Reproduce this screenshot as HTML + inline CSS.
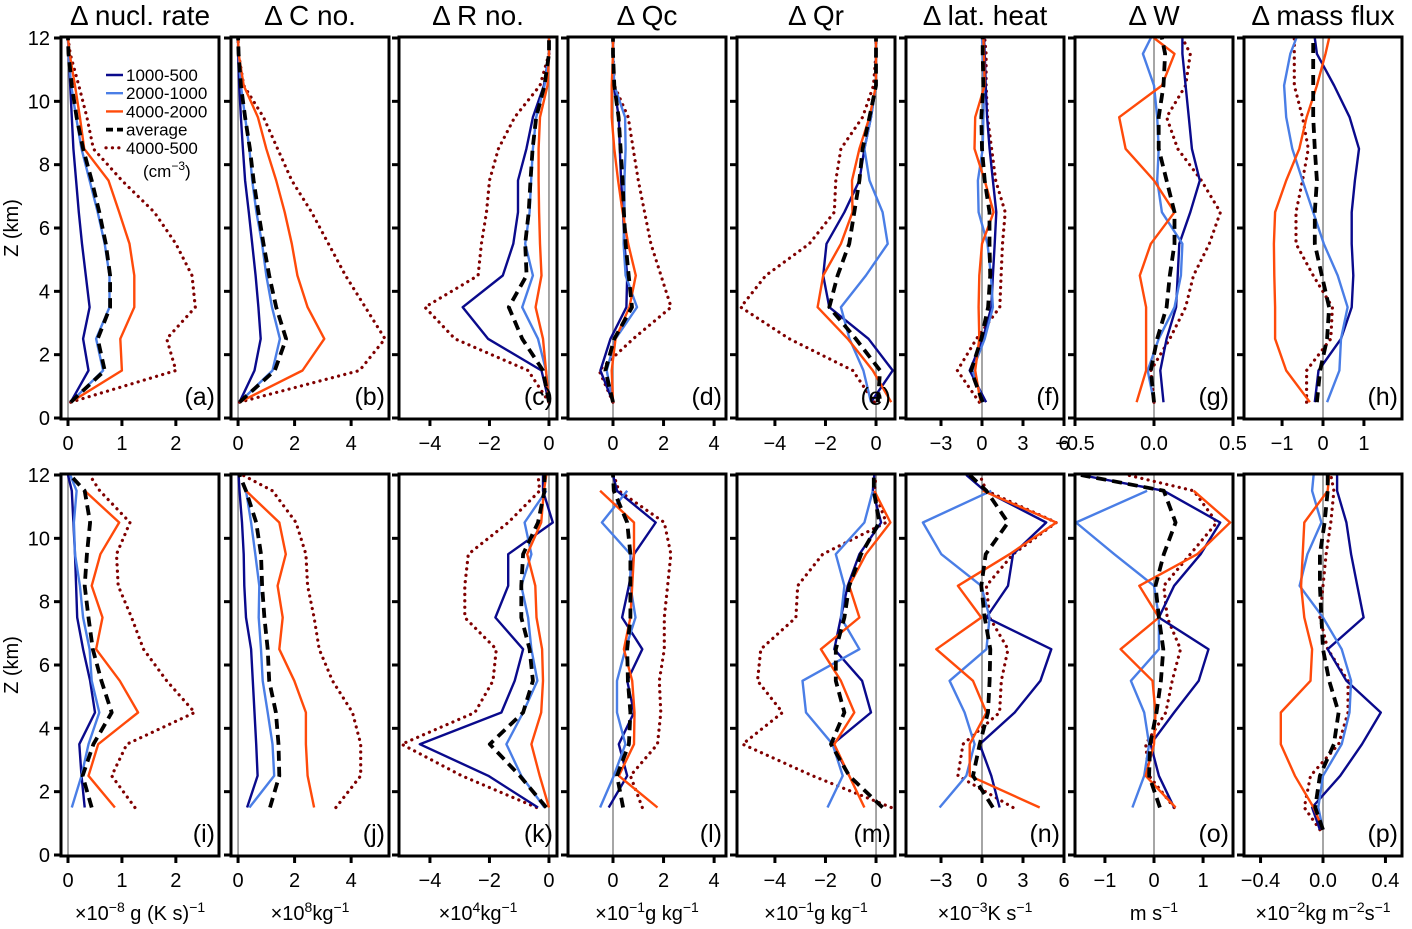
<!DOCTYPE html>
<html><head><meta charset="utf-8">
<style>
html,body{margin:0;padding:0;background:#fff;}
svg{display:block;font-family:"Liberation Sans",sans-serif;}
</style></head>
<body>
<svg id="chart" width="1412" height="929" viewBox="0 0 1412 929" xmlns="http://www.w3.org/2000/svg"></svg>
<script>
// ---------- data ----------
const topLevels = [0.5,1.5,2.5,3.5,4.5,5.5,6.5,7.5,8.5,9.5,10.5,11.5,12];
const botLevels = [0.8,1.5,2.5,3.5,4.5,5.5,6.5,7.5,8.5,9.5,10.5,11.5,12];
const seriesNames = ["1000-500","2000-1000","4000-2000","average","4000-500"];
const panelLetters = ["a","b","c","d","e","f","g","h","i","j","k","l","m","n","o","p"];
const panelTitles = ["\u0394 nucl. rate","\u0394 C no.","\u0394 R no.","\u0394 Qc","\u0394 Qr","\u0394 lat. heat","\u0394 W","\u0394 mass flux"];
const xTicks = [[0,1,2],[0,2,4],[-4,-2,0],[0,2,4],[-4,-2,0],[-3,0,3,6],[-0.5,0,0.5],[-1,0,1],
                [0,1,2],[0,2,4],[-4,-2,0],[0,2,4],[-4,-2,0],[-3,0,3,6],[-1,0,1],[-0.4,0,0.4]];
const xTickLabels = [["0","1","2"],["0","2","4"],["\u22124","\u22122","0"],["0","2","4"],["\u22124","\u22122","0"],["\u22123","0","3","6"],["\u22120.5","0.0","0.5"],["\u22121","0","1"],
                ["0","1","2"],["0","2","4"],["\u22124","\u22122","0"],["0","2","4"],["\u22124","\u22122","0"],["\u22123","0","3","6"],["\u22121","0","1"],["\u22120.4","0.0","0.4"]];
const yTicks = [0,2,4,6,8,10,12];
// series per panel: [blue, lightblue, orange, average, dotted]
const dA = [[0.05,0.38,0.28,0.40,0.33,0.26,0.2,0.15,0.1,0.07,0.04,0.01,0],
            [0.05,0.65,0.52,0.77,0.77,0.68,0.55,0.4,0.25,0.15,0.06,0.01,0],
            [0.05,1.0,0.97,1.23,1.23,1.14,0.95,0.75,0.3,0.22,0.13,0.03,0],
            [0.05,0.68,0.55,0.78,0.78,0.7,0.58,0.44,0.28,0.16,0.07,0.01,0],
            [0.05,2.0,1.83,2.36,2.3,2.0,1.6,1.0,0.47,0.35,0.2,0.04,0]];
const dB = [[0.05,0.58,0.8,0.72,0.62,0.5,0.38,0.25,0.17,0.1,0.04,0.0,0],
            [0.05,1.22,1.48,1.2,1.0,0.85,0.65,0.5,0.4,0.25,0.1,0.02,0],
            [0.05,2.28,3.05,2.46,2.1,1.9,1.65,1.35,1.0,0.7,0.2,0.02,0],
            [0.05,1.3,1.7,1.35,1.1,0.9,0.72,0.55,0.42,0.25,0.1,0.02,0],
            [0.05,4.3,5.2,4.5,3.8,3.2,2.6,1.9,1.4,0.9,0.2,0.02,0]];
const dC = [[0,-0.25,-2.05,-2.9,-1.55,-1.2,-1.04,-1.04,-0.76,-0.54,-0.17,0,0],
            [0,-0.1,-0.37,-0.9,-0.54,-0.8,-0.65,-0.6,-0.54,-0.43,-0.15,0,0],
            [0,-0.1,-0.2,-0.45,-0.25,-0.3,-0.33,-0.35,-0.35,-0.3,-0.05,0,0],
            [0,-0.2,-0.9,-1.35,-0.75,-0.8,-0.68,-0.62,-0.55,-0.43,-0.15,0,0],
            [0,-0.7,-3.16,-4.17,-2.38,-2.27,-2.1,-2.0,-1.7,-1.15,-0.3,0,0]];
const dD = [[0,-0.5,-0.1,0.53,0.56,0.45,0.4,0.32,0.27,0.23,0.03,0,0],
            [0,-0.25,0.1,0.95,0.5,0.42,0.45,0.45,0.5,0.48,0.05,0,0],
            [0,-0.05,0.1,0.65,0.9,0.6,0.38,0.2,0.05,-0.05,-0.05,0,0],
            [0,-0.3,0.05,0.75,0.62,0.5,0.43,0.38,0.3,0.22,0.05,0,0],
            [0,-0.55,0.8,2.3,1.9,1.5,1.25,1.0,0.8,0.6,0.05,0,0]];
const dE = [[-0.2,0.66,-0.3,-1.85,-2.09,-1.96,-1.25,-0.66,-0.46,-0.2,0,0,0],
            [-0.2,-0.5,-1.05,-1.39,-0.4,0.46,0.26,-0.26,-0.46,-0.2,0,0,0],
            [0.6,-0.13,-1.12,-2.31,-2.09,-1.39,-0.93,-0.95,-0.66,-0.26,0,0,0],
            [0.07,0.16,-0.8,-1.85,-1.52,-1.06,-0.86,-0.66,-0.53,-0.26,0,0,0],
            [-0.07,-0.92,-3.43,-5.35,-4.36,-2.64,-1.65,-1.59,-1.39,-0.53,-0.1,0,0]];
const dF = [[0.3,-0.9,0.07,0.68,0.8,0.93,1.05,0.8,0.56,0.37,0.27,0.2,0.15],
            [0.1,-0.7,0.2,0.8,0.65,0.4,-0.25,-0.3,0.05,0.1,0.15,0.05,0.0],
            [-0.1,-0.5,-0.2,-0.25,-0.2,0,0.85,0.2,-0.55,-0.5,0.2,0.15,0.1],
            [0.05,-0.8,-0.05,0.45,0.6,0.55,0.55,0.2,0,-0.05,0.1,0.05,0.05],
            [-0.2,-1.8,-0.4,1.3,1.4,1.5,1.7,1.0,0.7,0.4,0.3,0.3,0.2]];
const dG = [[0.06,0.04,0.08,0.14,0.15,0.16,0.23,0.29,0.24,0.22,0.2,0.18,0.18],
            [0,-0.04,0.03,0.13,0.17,0.18,0.05,0.02,0.03,0.02,0,-0.07,-0.02],
            [-0.11,-0.05,-0.05,-0.05,-0.09,-0.02,0.13,0,-0.18,-0.22,0.05,0.13,0],
            [0,-0.02,0.02,0.08,0.1,0.13,0.13,0.08,0.03,0.03,0.06,0.07,0.05],
            [0,-0.02,0.1,0.2,0.25,0.35,0.42,0.3,0.15,0.08,0.2,0.23,0.18]];
const dH = [[-0.2,-0.11,0.44,0.7,0.74,0.7,0.7,0.78,0.88,0.65,0.27,-0.15,-0.2],
            [0.1,0.4,0.44,0.6,0.36,0.02,-0.24,-0.5,-0.75,-0.9,-0.95,-0.8,-0.65],
            [-0.32,-0.9,-1.17,-1.17,-1.19,-1.2,-1.17,-0.9,-0.58,-0.4,-0.15,0.06,0.15],
            [-0.15,-0.07,0.1,0.15,-0.03,-0.2,-0.2,-0.15,-0.2,-0.24,-0.24,-0.24,-0.24],
            [-0.4,-0.4,0.19,0.23,-0.24,-0.66,-0.66,-0.5,-0.36,-0.5,-0.7,-0.7,-0.7]];
const dI = [[null,0.31,0.25,0.21,0.5,0.41,0.28,0.17,0.15,0.13,0.1,0.07,0],
            [null,0.07,0.25,0.38,0.58,0.44,0.4,0.28,0.22,0.13,0.11,0.16,0.04],
            [null,0.87,0.38,0.56,1.3,0.96,0.52,0.64,0.44,0.6,0.95,0.31,null],
            [null,0.44,0.27,0.47,0.81,0.62,0.46,0.38,0.31,0.35,0.41,0.31,0.04],
            [null,1.24,0.81,1.09,2.35,1.83,1.4,1.18,0.93,0.9,1.15,0.59,0.4]];
const dJ = [[null,0.32,0.69,0.64,0.58,0.52,0.46,0.28,0.22,0.2,0.14,0.05,0.02],
            [null,0.4,1.28,1.22,1.05,0.87,0.81,0.73,0.75,0.61,0.46,0.28,null],
            [null,2.69,2.46,2.4,2.4,1.99,1.46,1.58,1.4,1.69,1.46,0.28,null],
            [null,1.13,1.46,1.43,1.34,1.1,1.05,0.93,0.85,0.81,0.64,0.28,0.05],
            [null,3.46,4.34,4.34,4.05,3.34,2.87,2.69,2.46,2.4,2.05,1.22,0.16]];
const dK = [[null,-0.37,-2.04,-4.34,-1.6,-1.15,-0.87,-1.8,-1.37,-1.37,0.13,-0.2,-0.2],
            [null,-0.15,-0.93,-1.43,-0.87,-0.39,-0.59,-0.7,-0.93,-0.59,-0.82,-0.09,null],
            [null,0,-0.31,-0.59,-0.26,-0.2,-0.23,-0.42,-0.46,-0.73,-0.26,-0.17,-0.09],
            [null,-0.09,-0.98,-1.99,-0.87,-0.54,-0.65,-0.93,-0.93,-0.87,-0.37,-0.15,-0.15],
            [null,-0.42,-2.93,-4.95,-2.49,-1.88,-1.77,-2.83,-2.83,-2.71,-1.37,-0.31,-0.37]];
const dL = [[null,-0.17,0.56,0.23,0.83,0.56,1.16,0.36,0.63,0.83,1.69,0.16,0],
            [null,-0.51,0.03,0.49,0.16,0.16,0.49,0.89,0.69,0.69,-0.44,0.56,null],
            [null,1.76,0.23,0.83,0.85,0.76,0.43,0.69,0.76,0.83,0.83,-0.51,null],
            [null,0.4,0.16,0.63,0.69,0.59,0.56,0.69,0.69,0.69,0.56,0.03,0],
            [null,1.16,0.69,1.76,1.89,1.83,2.03,2.03,2.16,2.29,2.03,0.23,0.03]];
const dM = [[null,null,-1.06,-1.72,-0.2,-0.55,-1.65,-1.39,-1.12,-0.66,0.2,-0.13,-0.07],
            [null,-1.92,-1.32,-1.72,-2.77,-2.91,-0.66,-1.39,-1.25,-1.59,-0.46,-0.13,null],
            [null,-0.46,-1.06,-1.65,-0.86,-1.39,-2.18,-0.66,-1.06,-0.4,0.57,-0.07,null],
            [null,0.26,-1.06,-1.78,-1.25,-1.59,-1.59,-1.25,-1.06,-0.59,0.13,-0.09,-0.09],
            [null,0.6,-2.51,-5.28,-3.7,-4.69,-4.56,-3.17,-3.1,-2.11,0.4,-0.07,0]];
const dN = [[null,1.29,0.68,-0.17,2.39,4.27,5.07,0.32,1.9,2.27,4.7,0.2,-1.15],
            [null,-3.1,-1.15,-0.54,-1.27,-2.37,0.32,0.56,-0.05,-2.98,-4.32,0.68,null],
            [null,4.22,-0.9,-0.9,0.32,-0.66,-3.34,-0.05,-1.76,2.02,5.44,0.07,null],
            [null,0.8,-0.66,-0.17,0.44,0.56,0.61,0.2,-0.05,0.27,1.9,0.32,-0.9],
            [null,2.27,-1.76,-1.39,1.29,1.41,1.9,0.56,0.32,2.27,5.44,0.32,-0.17]];
const dO = [[null,0.41,0.1,-0.07,0.41,0.91,1.11,0.1,0.41,0.95,1.35,0.2,-1.49],
            [null,-0.44,-0.2,-0.1,-0.2,-0.47,0.1,0.1,0,-0.81,-1.59,-0.14,null],
            [null,0.44,-0.17,0,0.03,-0.03,-0.68,0.1,-0.3,0.88,1.55,0.81,null],
            [null,0.12,-0.1,-0.08,0.05,0.14,0.19,0.1,0.03,0.2,0.44,0.2,-1.49],
            [null,0.41,-0.1,-0.17,0.24,0.37,0.54,0.27,0.2,0.74,1.28,0.81,-0.54]];
const dP = [[-0.02,-0.07,0.11,0.25,0.37,0.15,0.03,0.26,0.22,0.18,0.15,0.09,0.09],
            [0,-0.03,0.0,0.12,0.17,0.18,0.12,0.0,-0.15,-0.1,-0.01,-0.07,-0.06],
            [0,-0.06,-0.18,-0.27,-0.27,-0.08,-0.07,-0.12,-0.14,-0.13,-0.12,0.03,0.04],
            [0,-0.05,-0.02,0.07,0.1,0.04,0.0,-0.01,-0.02,-0.02,0.01,0.03,0.03],
            [-0.02,-0.12,-0.08,0.1,0.16,0.16,0.03,-0.02,0.0,0.02,0.05,0.07,0.05]];
const panelData = [dA,dB,dC,dD,dE,dF,dG,dH,dI,dJ,dK,dL,dM,dN,dO,dP];
const xDomains = [[-0.13,2.8],[-0.25,5.34],[-5.04,0.27],[-1.78,4.47],[-5.5,0.75],[-5.56,6.0],[-0.5,0.5],[-1.93,1.93],
                  [-0.13,2.8],[-0.25,5.34],[-5.04,0.27],[-1.78,4.47],[-5.5,0.75],[-5.56,6.0],[-1.61,1.61],[-0.506,0.506]];
// unit labels: [text, superscript] pairs
const unitLabels = [
  [["\u00d710",""],["","\u22128"],[" g (K s)",""],["","\u22121"]],
  [["\u00d710",""],["","8"],["kg",""],["","\u22121"]],
  [["\u00d710",""],["","4"],["kg",""],["","\u22121"]],
  [["\u00d710",""],["","\u22121"],["g kg",""],["","\u22121"]],
  [["\u00d710",""],["","\u22121"],["g kg",""],["","\u22121"]],
  [["\u00d710",""],["","\u22123"],["K s",""],["","\u22121"]],
  [["m s",""],["","\u22121"]],
  [["\u00d710",""],["","\u22122"],["kg m",""],["","\u22122"],["s",""],["","\u22121"]]
];

// ---------- layout ----------
const NS = "http://www.w3.org/2000/svg";
const svg = document.getElementById("chart");
const panelLeft = [61,231,399,568,737,906,1075,1244];
const panelW = 158;
const rowTop = [38,475], rowBottom = [418,855];
const styles = [
  {stroke:"#0a0a8c", w:2.4, dash:null},
  {stroke:"#4a7ee6", w:2.4, dash:null},
  {stroke:"#ff4a0a", w:2.4, dash:null},
  {stroke:"#000", w:3.8, dash:"10 6"},
  {stroke:"#800000", w:3.2, dash:"0.1 6.3"}
];
function el(tag, attrs, parent){
  const e = document.createElementNS(NS, tag);
  for (const k in attrs) e.setAttribute(k, attrs[k]);
  (parent||svg).appendChild(e);
  return e;
}
function txt(s, attrs, parent){ const t = el("text", attrs, parent); t.textContent = s; return t; }

for (let p=0;p<16;p++){
  const row = p<8?0:1, col = p%8;
  const x0 = panelLeft[col], x1 = x0+panelW;
  const yT = rowTop[row], yB = rowBottom[row];
  const dom = xDomains[p];
  const xs = v => x0 + (v-dom[0])/(dom[1]-dom[0])*panelW;
  const ys = z => yB - z/12*(yB-yT);
  const levels = row===0?topLevels:botLevels;
  const g = el("g", {});
  
  
  const cid = "clip"+p;
  const cp = el("clipPath",{id:cid},g);
  el("rect",{x:x0,y:yT-2,width:panelW,height:yB-yT+4},cp);
  const zl = el("line",{x1:xs(0),x2:xs(0),y1:yT-1,y2:yB+1,stroke:"#888","stroke-width":1.5},g);
  
  
  const sg = el("g",{"clip-path":"url(#"+cid+")"},g);
  const order = [4,0,1,2,3];
  for (const s of order){
    const vals = panelData[p][s];
    let d = "", pen = false;
    for (let i=0;i<levels.length;i++){
      if (vals[i]===null || vals[i]===undefined){ pen=false; continue; }
      d += (pen?"L":"M") + xs(vals[i]).toFixed(1) + " " + ys(levels[i]).toFixed(1) + " ";
      pen = true;
    }
    const st = styles[s];
    const path = el("path",{d:d,fill:"none",stroke:st.stroke,"stroke-width":st.w,"stroke-linejoin":"round","stroke-linecap":s===4?"round":"butt"},sg);
    if (st.dash) path.setAttribute("stroke-dasharray", st.dash);
    
    
  }
  const fr = el("rect",{x:x0,y:yT-1,width:panelW,height:yB-yT+2,fill:"none",stroke:"#000","stroke-width":3},g);
  
  
  for (const z of yTicks){
    el("line",{x1:x0-7,x2:x0,y1:ys(z),y2:ys(z),stroke:"#000","stroke-width":3},g);
  }
  xTicks[p].forEach((v,i)=>{
    const x = xs(v);
    el("line",{x1:x,x2:x,y1:yB+1,y2:yB+8,stroke:"#000","stroke-width":3},g);
    const t = txt(xTickLabels[p][i],{x:x,y:yB+32,"font-size":20,"text-anchor":"middle"},g);
    
    
  });
  const pl = txt("("+panelLetters[p]+")",{x:x1-4,y:yB-13,"font-size":25,"text-anchor":"end"},g);
  
  
}
for (let c=0;c<8;c++){
  const cx = panelLeft[c]+panelW/2;
  const t = txt(panelTitles[c],{x:cx,y:25,"font-size":28,"text-anchor":"middle"});
  
  
  const u = el("text",{x:cx,y:920,"font-size":20,"text-anchor":"middle"});
  
  
  let up = false;
  for (const part of unitLabels[c]){
    const ts = document.createElementNS(NS,"tspan");
    if (part[1]){
      ts.textContent = part[1];
      ts.setAttribute("font-size","14");
      if (!up){ ts.setAttribute("dy","-8"); up = true; }
    } else {
      ts.textContent = part[0];
      if (up){ ts.setAttribute("dy","8"); up = false; }
    }
    u.appendChild(ts);
  }
}
for (let r=0;r<2;r++){
  for (const z of yTicks){
    const y = rowBottom[r] - z/12*(rowBottom[r]-rowTop[r]);
    const t = txt(String(z),{x:50,y:y+7,"font-size":20,"text-anchor":"end"});
    
    
  }
  const cy = (rowTop[r]+rowBottom[r])/2;
  const yl = txt("Z (km)",{x:0,y:0,"font-size":20,"text-anchor":"middle",transform:"translate(18,"+cy+") rotate(-90)"});
  
  
}
const lg = el("g",{});


seriesNames.forEach((n,i)=>{
  const y = 75 + i*18.2;
  const st = styles[i];
  const ln = el("line",{x1:106,x2:123,y1:y,y2:y,stroke:st.stroke,"stroke-width":st.w,"stroke-linecap":i===4?"round":"butt"},lg);
  if (st.dash) ln.setAttribute("stroke-dasharray", i===3?"7 4":st.dash);
  
  
  txt(n,{x:126,y:y+6,"font-size":17},lg);
});
const cm = txt("",{x:143,y:177,"font-size":17},lg);
cm.innerHTML = '(cm<tspan dy="-7" font-size="12">\u22123</tspan><tspan dy="7">)</tspan>';
</script>
</body></html>
